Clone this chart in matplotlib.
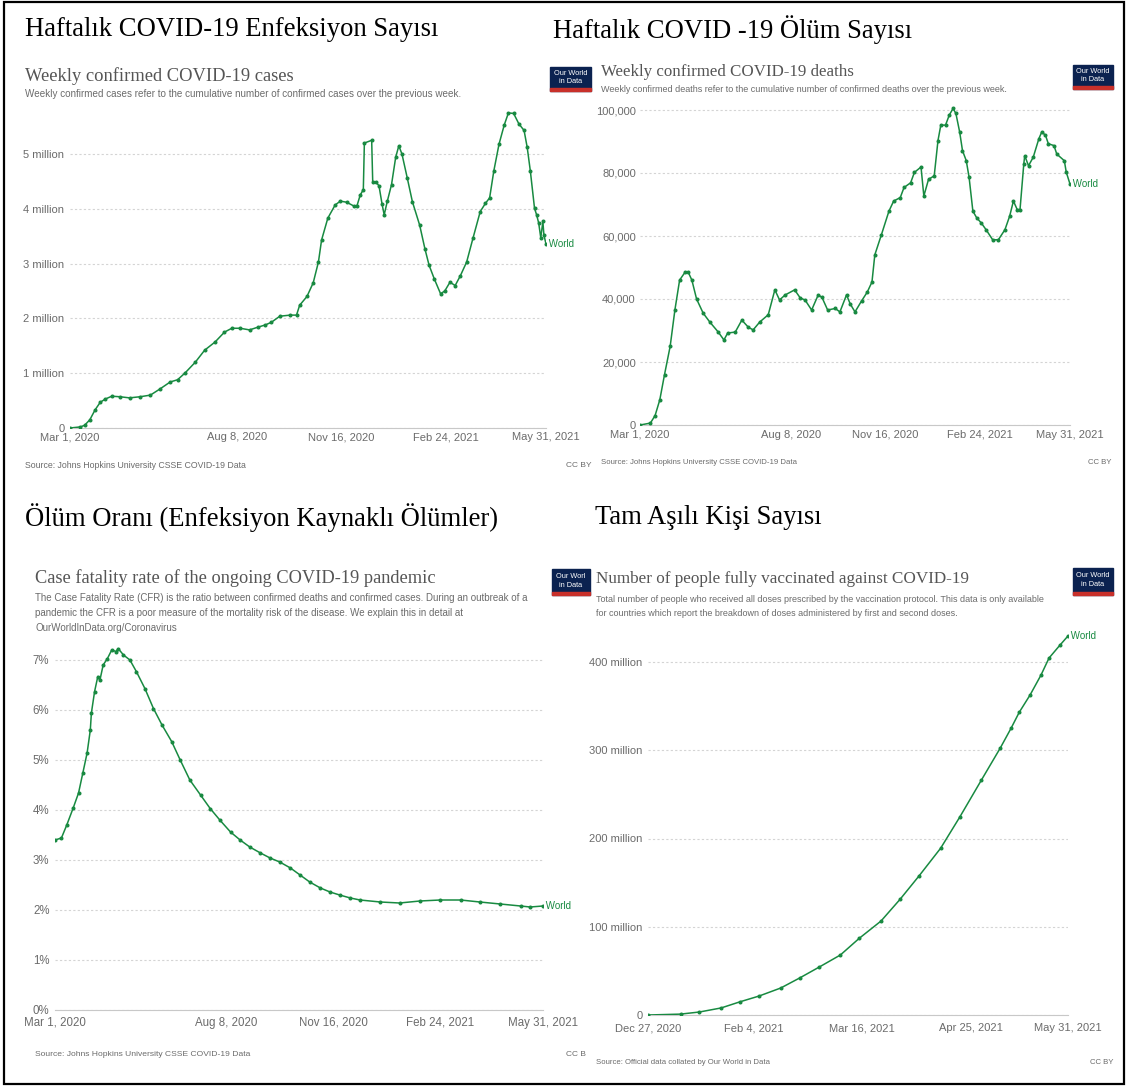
import numpy as np
import matplotlib.pyplot as plt
from matplotlib.patches import Rectangle

W, H = 1126, 1088
GREEN = '#188a41'
GRID = '#d4d4d4'
TXT = '#6b6b6b'
SANS = ['Liberation Sans Narrow', 'Liberation Sans', 'DejaVu Sans']
SERIF = ['Liberation Serif', 'DejaVu Serif']

start_covid = np.datetime64('2020-03-01')
start_vax = np.datetime64('2020-12-27')
end_date = np.datetime64('2021-05-31')

# weekly confirmed cases, day offset from 1 Mar 2020 / millions
case_days = [0, 10, 14, 19, 24, 29, 34, 40, 48, 57, 67, 77, 86, 96, 103, 110, 120, 129,
             139, 148, 155, 163, 172, 180, 187, 193, 201, 211, 217, 220, 227, 233, 238,
             241, 247, 254, 259, 265, 272, 275, 278, 281, 282, 289, 290, 293, 296, 299,
             301, 304, 308, 312, 315, 318, 323, 328, 335, 340, 344, 349, 355, 359, 364,
             369, 374, 380, 386, 393, 398, 402, 406, 411, 416, 420, 425, 430, 435, 438,
             441, 445, 447, 449, 451, 453, 454, 456]
case_vals = [0.0, 0.02, 0.05, 0.15, 0.33, 0.47, 0.53, 0.58, 0.57, 0.55, 0.57, 0.6, 0.71,
             0.84, 0.88, 1.0, 1.2, 1.42, 1.57, 1.75, 1.82, 1.82, 1.79, 1.84, 1.88, 1.93,
             2.04, 2.06, 2.06, 2.24, 2.4, 2.65, 3.03, 3.43, 3.83, 4.07, 4.14, 4.12, 4.05,
             4.06, 4.25, 4.35, 5.2, 5.25, 4.49, 4.49, 4.42, 4.08, 3.89, 4.14, 4.44, 4.94,
             5.15, 5.0, 4.57, 4.13, 3.7, 3.27, 2.97, 2.72, 2.45, 2.5, 2.66, 2.6, 2.78,
             3.03, 3.46, 3.95, 4.1, 4.2, 4.69, 5.18, 5.53, 5.75, 5.74, 5.55, 5.43, 5.12,
             4.69, 4.01, 3.89, 3.74, 3.47, 3.77, 3.52, 3.36]

# weekly confirmed deaths, day offset from 1 Mar 2020 / thousands
death_days = [0, 11, 16, 21, 26, 32, 37, 42, 48, 51, 55, 60, 67, 74, 83, 89, 93, 101, 108,
              115, 120, 127, 136, 143, 148, 154, 164, 170, 175, 182, 189, 193, 199, 207,
              212, 219, 223, 228, 235, 241, 246, 249, 256, 264, 269, 276, 280, 287, 291,
              298, 301, 306, 312, 316, 319, 324, 328, 332, 335, 339, 342, 346, 349, 353,
              357, 362, 367, 374, 380, 387, 392, 396, 400, 403, 407, 408, 412, 417, 423,
              426, 430, 433, 439, 442, 450, 452, 456]
death_vals = [0, 0.6, 3, 8, 16, 25, 36.5, 46, 48.6, 48.6, 46, 40, 35.5, 32.7, 29.5, 27,
              29.2, 29.5, 33.3, 31, 30.2, 32.7, 35, 42.9, 39.7, 41.3, 42.9, 40.3, 39.7,
              36.5, 41.3, 40.5, 36.5, 37, 35.9, 41.3, 38.4, 35.9, 39.4, 42.2, 45.4, 54,
              60.4, 67.9, 71.1, 72.2, 75.4, 76.9, 80.2, 81.9, 72.7, 78, 79.1, 90.3, 95.2,
              95.2, 98.4, 100.5, 98.9, 93, 87.1, 83.9, 78.6, 67.9, 65.8, 64.1, 62, 58.8,
              58.8, 62, 66.3, 71.1, 68.4, 68.4, 82.9, 85.5, 82.3, 85, 90.9, 93, 92, 89.3,
              88.7, 86, 83.9, 80.3, 76.5]

# case fatality rate, day offset from 1 Mar 2020 / percent
cfr_days = [0, 6, 11, 17, 22, 26, 30, 33, 34, 37, 40, 42, 45, 49, 53, 57, 59, 64, 70, 76,
            84, 92, 100, 109, 117, 126, 136, 145, 154, 164, 173, 182, 192, 201, 210, 220,
            229, 238, 248, 257, 266, 276, 285, 304, 322, 341, 360, 379, 397, 416, 435,
            444, 456]
cfr_vals = [3.4, 3.44, 3.7, 4.04, 4.34, 4.74, 5.14, 5.6, 5.94, 6.37, 6.67, 6.6, 6.9, 7.03,
            7.2, 7.17, 7.23, 7.1, 7.0, 6.77, 6.43, 6.03, 5.7, 5.37, 5.0, 4.6, 4.3, 4.03,
            3.8, 3.56, 3.4, 3.26, 3.14, 3.04, 2.96, 2.84, 2.7, 2.56, 2.44, 2.36, 2.3, 2.24,
            2.2, 2.16, 2.14, 2.18, 2.2, 2.2, 2.16, 2.12, 2.08, 2.06, 2.08]

# people fully vaccinated, day offset from 27 Dec 2020 / millions
vax_days = [0, 12, 19, 27, 34, 41, 49, 56, 63, 71, 78, 86, 93, 100, 108, 115, 123, 130,
            134, 137, 141, 145, 148, 152, 155]
vax_vals = [0, 1, 3.4, 8, 15, 21.5, 30.6, 42, 54, 68, 87, 106.5, 131, 157.5, 189, 224, 266,
            302.5, 325, 343, 362.6, 385, 404.5, 419, 429.5]

covid_ticks = ['2020-03-01', '2020-08-08', '2020-11-16', '2021-02-24', '2021-05-31']
covid_tick_labels = ['Mar 1, 2020', 'Aug 8, 2020', 'Nov 16, 2020', 'Feb 24, 2021', 'May 31, 2021']
vax_ticks = ['2020-12-27', '2021-02-04', '2021-03-16', '2021-04-25', '2021-05-31']
vax_tick_labels = ['Dec 27, 2020', 'Feb 4, 2021', 'Mar 16, 2021', 'Apr 25, 2021', 'May 31, 2021']

fig = plt.figure(figsize=(W / 100, H / 100), dpi=100)


def T(x, y, s, **kw):
    kw.setdefault('va', 'center')
    kw.setdefault('ha', 'left')
    return fig.text(x / W, 1 - y / H, s, **kw)


def make_axes(left, top, right, bottom):
    return fig.add_axes([left / W, 1 - bottom / H, (right - left) / W, (bottom - top) / H])


def offsets(dates, start):
    return [int((np.datetime64(d) - start).astype(int)) for d in dates]


def owid_logo(x0, y0, x1, y1, label='Our World'):
    fig.patches.append(Rectangle((x0 / W, 1 - y1 / H), (x1 - x0) / W, (y1 - y0) / H,
                                 transform=fig.transFigure, color='#0b2250', zorder=5))
    fig.patches.append(Rectangle((x0 / W, 1 - y1 / H), (x1 - x0) / W, 3 / H,
                                 transform=fig.transFigure, color='#c8302a', zorder=6))
    T((x0 + x1) / 2, y0 + (y1 - y0) * 0.28, label, ha='center', color='white',
      fontsize=5.3, family=SANS, zorder=7)
    T((x0 + x1) / 2, y0 + (y1 - y0) * 0.62, 'in Data', ha='center', color='white',
      fontsize=5.3, family=SANS, zorder=7)


def panel(box, xs, ys, nd, ymax, yt, ytl, xt, xtl, ypad, xpad, fs=8):
    ax = make_axes(*box)
    ax.plot(xs, ys, color=GREEN, lw=1.1, marker='o', ms=1.9, zorder=3)
    ax.set_xlim(0, nd)
    ax.set_ylim(0, ymax)
    for s in ['top', 'right', 'left']:
        ax.spines[s].set_visible(False)
    ax.spines['bottom'].set_color('#c8c8c8')
    ax.set_yticks(yt)
    ax.set_yticklabels(ytl, family=SANS, fontsize=fs, color=TXT)
    ax.set_xticks(xt)
    ax.set_xticklabels(xtl, family=SANS, fontsize=fs, color=TXT)
    ax.tick_params(axis='y', length=0, pad=ypad)
    ax.tick_params(axis='x', length=0, pad=xpad)
    ax.grid(axis='y', color=GRID, ls=(0, (2, 2)), lw=0.8)
    ax.set_facecolor('none')
    ax.text(xs[-1], ys[-1], ' World', color=GREEN, fontsize=7, family=SANS,
            va='center', ha='left', clip_on=False)
    return ax


nd_covid = int((end_date - start_covid).astype(int))
nd_vax = int((end_date - start_vax).astype(int))

# panel 1 - weekly cases
panel((70, 428 - 5.9 * 54.8, 546, 428), case_days, case_vals, nd_covid, 5.9,
      [0, 1, 2, 3, 4, 5], ['0', '1 million', '2 million', '3 million', '4 million', '5 million'],
      offsets(covid_ticks, start_covid), covid_tick_labels, 4, 3)

# panel 2 - weekly deaths
panel((640, 425 - 103 * 3.15, 1070, 425), death_days, death_vals, nd_covid, 103,
      [0, 20, 40, 60, 80, 100], ['0', '20,000', '40,000', '60,000', '80,000', '100,000'],
      offsets(covid_ticks, start_covid), covid_tick_labels, 3, 3.5)

# panel 3 - case fatality rate
panel((55, 1010 - 7.6 * 50, 543, 1010), cfr_days, cfr_vals, nd_covid, 7.6,
      list(range(8)), ['%d%%' % i for i in range(8)],
      offsets(covid_ticks, start_covid), covid_tick_labels, 4, 5, fs=8.3)

# panel 4 - fully vaccinated
panel((648, 1015 - 440 * 0.8825, 1068, 1015), vax_days, vax_vals, nd_vax, 440,
      [0, 100, 200, 300, 400], ['0', '100 million', '200 million', '300 million', '400 million'],
      offsets(vax_ticks, start_vax), vax_tick_labels, 4, 6)

# Turkish headings
T(25, 30, 'Haftalık COVID-19 Enfeksiyon Sayısı', family=SERIF, fontsize=19.2, color='black')
T(553, 30, 'Haftalık COVID -19 Ölüm Sayısı', family=SERIF, fontsize=19.2, color='black')
T(25, 518, 'Ölüm Oranı (Enfeksiyon Kaynaklı Ölümler)', family=SERIF, fontsize=19.2, color='black')
T(595, 518, 'Tam Aşılı Kişi Sayısı', family=SERIF, fontsize=19.2, color='black')

# chart titles and notes
TITLE = '#555555'
T(25, 76, 'Weekly confirmed COVID-19 cases', family=SERIF, fontsize=13.3, color=TITLE)
T(25, 94, 'Weekly confirmed cases refer to the cumulative number of confirmed cases over the previous week.',
  family=SANS, fontsize=7.1, color=TXT)
T(601, 72, 'Weekly confirmed COVID-19 deaths', family=SERIF, fontsize=12.2, color=TITLE)
T(601, 89, 'Weekly confirmed deaths refer to the cumulative number of confirmed deaths over the previous week.',
  family=SANS, fontsize=6.5, color=TXT)
T(35, 578, 'Case fatality rate of the ongoing COVID-19 pandemic', family=SERIF, fontsize=13.2, color=TITLE)
T(35, 598, 'The Case Fatality Rate (CFR) is the ratio between confirmed deaths and confirmed cases. '
  'During an outbreak of a', family=SANS, fontsize=7.05, color=TXT)
T(35, 613, 'pandemic the CFR is a poor measure of the mortality risk of the disease. '
  'We explain this in detail at', family=SANS, fontsize=7.05, color=TXT)
T(35, 628, 'OurWorldInData.org/Coronavirus', family=SANS, fontsize=7.05, color=TXT)
T(596, 579, 'Number of people fully vaccinated against COVID-19', family=SERIF, fontsize=12.3, color=TITLE)
T(596, 600, 'Total number of people who received all doses prescribed by the vaccination protocol. '
  'This data is only available', family=SANS, fontsize=6.5, color=TXT)
T(596, 614, 'for countries which report the breakdown of doses administered by first and second doses.',
  family=SANS, fontsize=6.5, color=TXT)

# sources
T(25, 465, 'Source: Johns Hopkins University CSSE COVID-19 Data', family=SANS, fontsize=6.3, color=TXT)
T(592, 466, 'CC BY', family=SANS, fontsize=6, color=TXT, ha='right')
T(601, 463, 'Source: Johns Hopkins University CSSE COVID-19 Data', family=SANS, fontsize=5.6, color=TXT)
T(1112, 463, 'CC BY', family=SANS, fontsize=5.6, color=TXT, ha='right')
T(35, 1055, 'Source: Johns Hopkins University CSSE COVID-19 Data', family=SANS, fontsize=6.1, color=TXT)
T(566, 1055, 'CC B', family=SANS, fontsize=6, color=TXT)
T(596, 1062, 'Source: Official data collated by Our World in Data', family=SANS, fontsize=5.6, color=TXT)
T(1113, 1062, 'CC BY', family=SANS, fontsize=5.6, color=TXT, ha='right')

# logos
owid_logo(550, 67, 591, 91)
owid_logo(1073, 65, 1113, 89)
owid_logo(552, 569, 590, 595, 'Our Worl')
owid_logo(1073, 568, 1113, 595)

# outer frame
fig.patches.append(Rectangle((4 / W, 1 - 1084 / H), 1120 / W, 1082 / H, transform=fig.transFigure,
                             fill=False, ec='black', lw=1.6, zorder=10))

fig.savefig('out.png', dpi=100)
